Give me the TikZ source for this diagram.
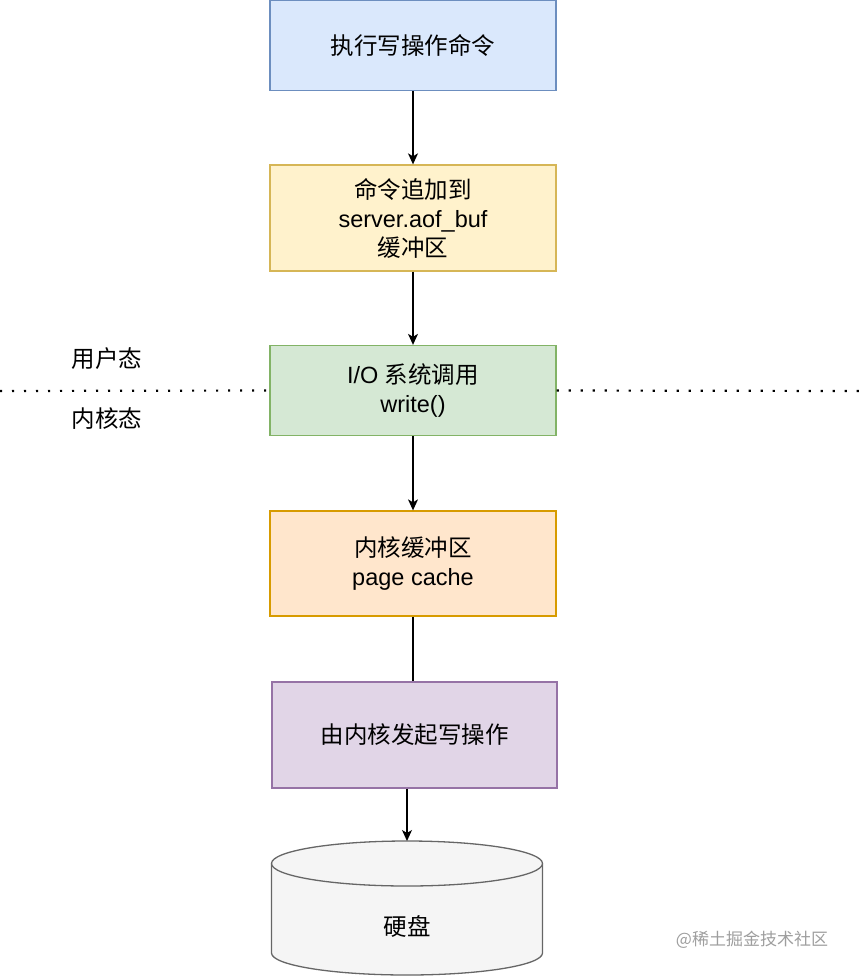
\documentclass[tikz,border=0pt]{standalone}
\usepackage{fontspec}
\setmainfont{Liberation Sans}
\newfontfamily\cjk{Noto Sans CJK SC}
\usetikzlibrary{arrows.meta}

\definecolor{azulF}{HTML}{DAE8FC}\definecolor{azulB}{HTML}{6C8EBF}
\definecolor{amarF}{HTML}{FFF2CC}\definecolor{amarB}{HTML}{D6B656}
\definecolor{verdeF}{HTML}{D5E8D4}\definecolor{verdeB}{HTML}{82B366}
\definecolor{laraF}{HTML}{FFE6CC}\definecolor{laraB}{HTML}{D79B00}
\definecolor{roxoF}{HTML}{E1D5E7}\definecolor{roxoB}{HTML}{9673A6}
\definecolor{discoF}{HTML}{F5F5F5}\definecolor{discoB}{HTML}{666666}

\tikzset{
  caixa/.style n args={2}{draw=#2, fill=#1, line width=1.3pt, rectangle,
    minimum width=286pt, inner sep=0pt, align=center,
    font=\fontsize{23.5}{29}\selectfont},
  seta/.style={line width=1.3pt, -{Stealth[length=11pt,width=10pt,inset=3pt]}},
  linha/.style={line width=1.3pt},
  rotulo/.style={font=\cjk\fontsize{23.5}{29}\selectfont},
}

\begin{document}
\begin{tikzpicture}[x=1pt,y=-1pt]
    % fixar o tamanho da figura
    \useasboundingbox (0,0) rectangle (860,977);
    % desenhar as caixas do fluxo
    \node[caixa={azulF}{azulB}, minimum height=90pt] (cmd) at (413,45.5) {{\cjk 执行写操作命令}};
    \node[caixa={amarF}{amarB}, minimum height=106pt] (buf) at (413,218) {{\cjk 命令追加到}\\server.aof\_buf\\{\cjk 缓冲区}};
    \node[caixa={verdeF}{verdeB}, minimum height=90pt] (io) at (413,390.5) {I/O {\cjk 系统调用}\\write()};
    \node[caixa={laraF}{laraB}, minimum height=105pt] (cache) at (413,563.5) {{\cjk 内核缓冲区}\\page cache};
    \node[caixa={roxoF}{roxoB}, minimum height=106pt, minimum width=285pt] (kern) at (414.5,735) {{\cjk 由内核发起写操作}};
    % desenhar o disco (cilindro)
    \draw[draw=discoB, fill=discoF, line width=1.3pt] (271.5,863.5) -- (271.5,953)
        arc[start angle=180, end angle=360, x radius=135.5pt, y radius=22pt] -- (542.5,863.5);
    \draw[draw=discoB, fill=discoF, line width=1.3pt] (407,863.5) circle[x radius=135.5pt, y radius=22.5pt];
    \coordinate (topo) at (407,841);
    \node[rotulo] (disco) at (407,926) {硬盘};
    % ligar as caixas
    \draw[seta] (cmd.south) -- (buf.north);
    \draw[seta] (buf.south) -- (io.north);
    \draw[seta] (io.south) -- (cache.north);
    \draw[linha] (cache.south) -- (cache.south |- kern.north);
    \draw[seta] (kern.south -| topo) -- (topo);
    % linha pontilhada entre os modos
    \coordinate (esq) at (0,391);
    \coordinate (dir) at (860,391);
    \draw[line width=2.2pt, dash pattern=on 2.2pt off 9.8pt] (esq) -- (io.west);
    \draw[line width=2.2pt, dash pattern=on 2.2pt off 9.8pt] (io.east) -- (dir);
    \node[rotulo] (user) at (107,359) {用户态};
    \node[rotulo] (kernel) at (107,419) {内核态};
    % marca d'agua
    \node[font=\cjk\fontsize{17}{20}\selectfont, text=black!38] (marca) at (752,940) {@稀土掘金技术社区};
\end{tikzpicture}
\end{document}
